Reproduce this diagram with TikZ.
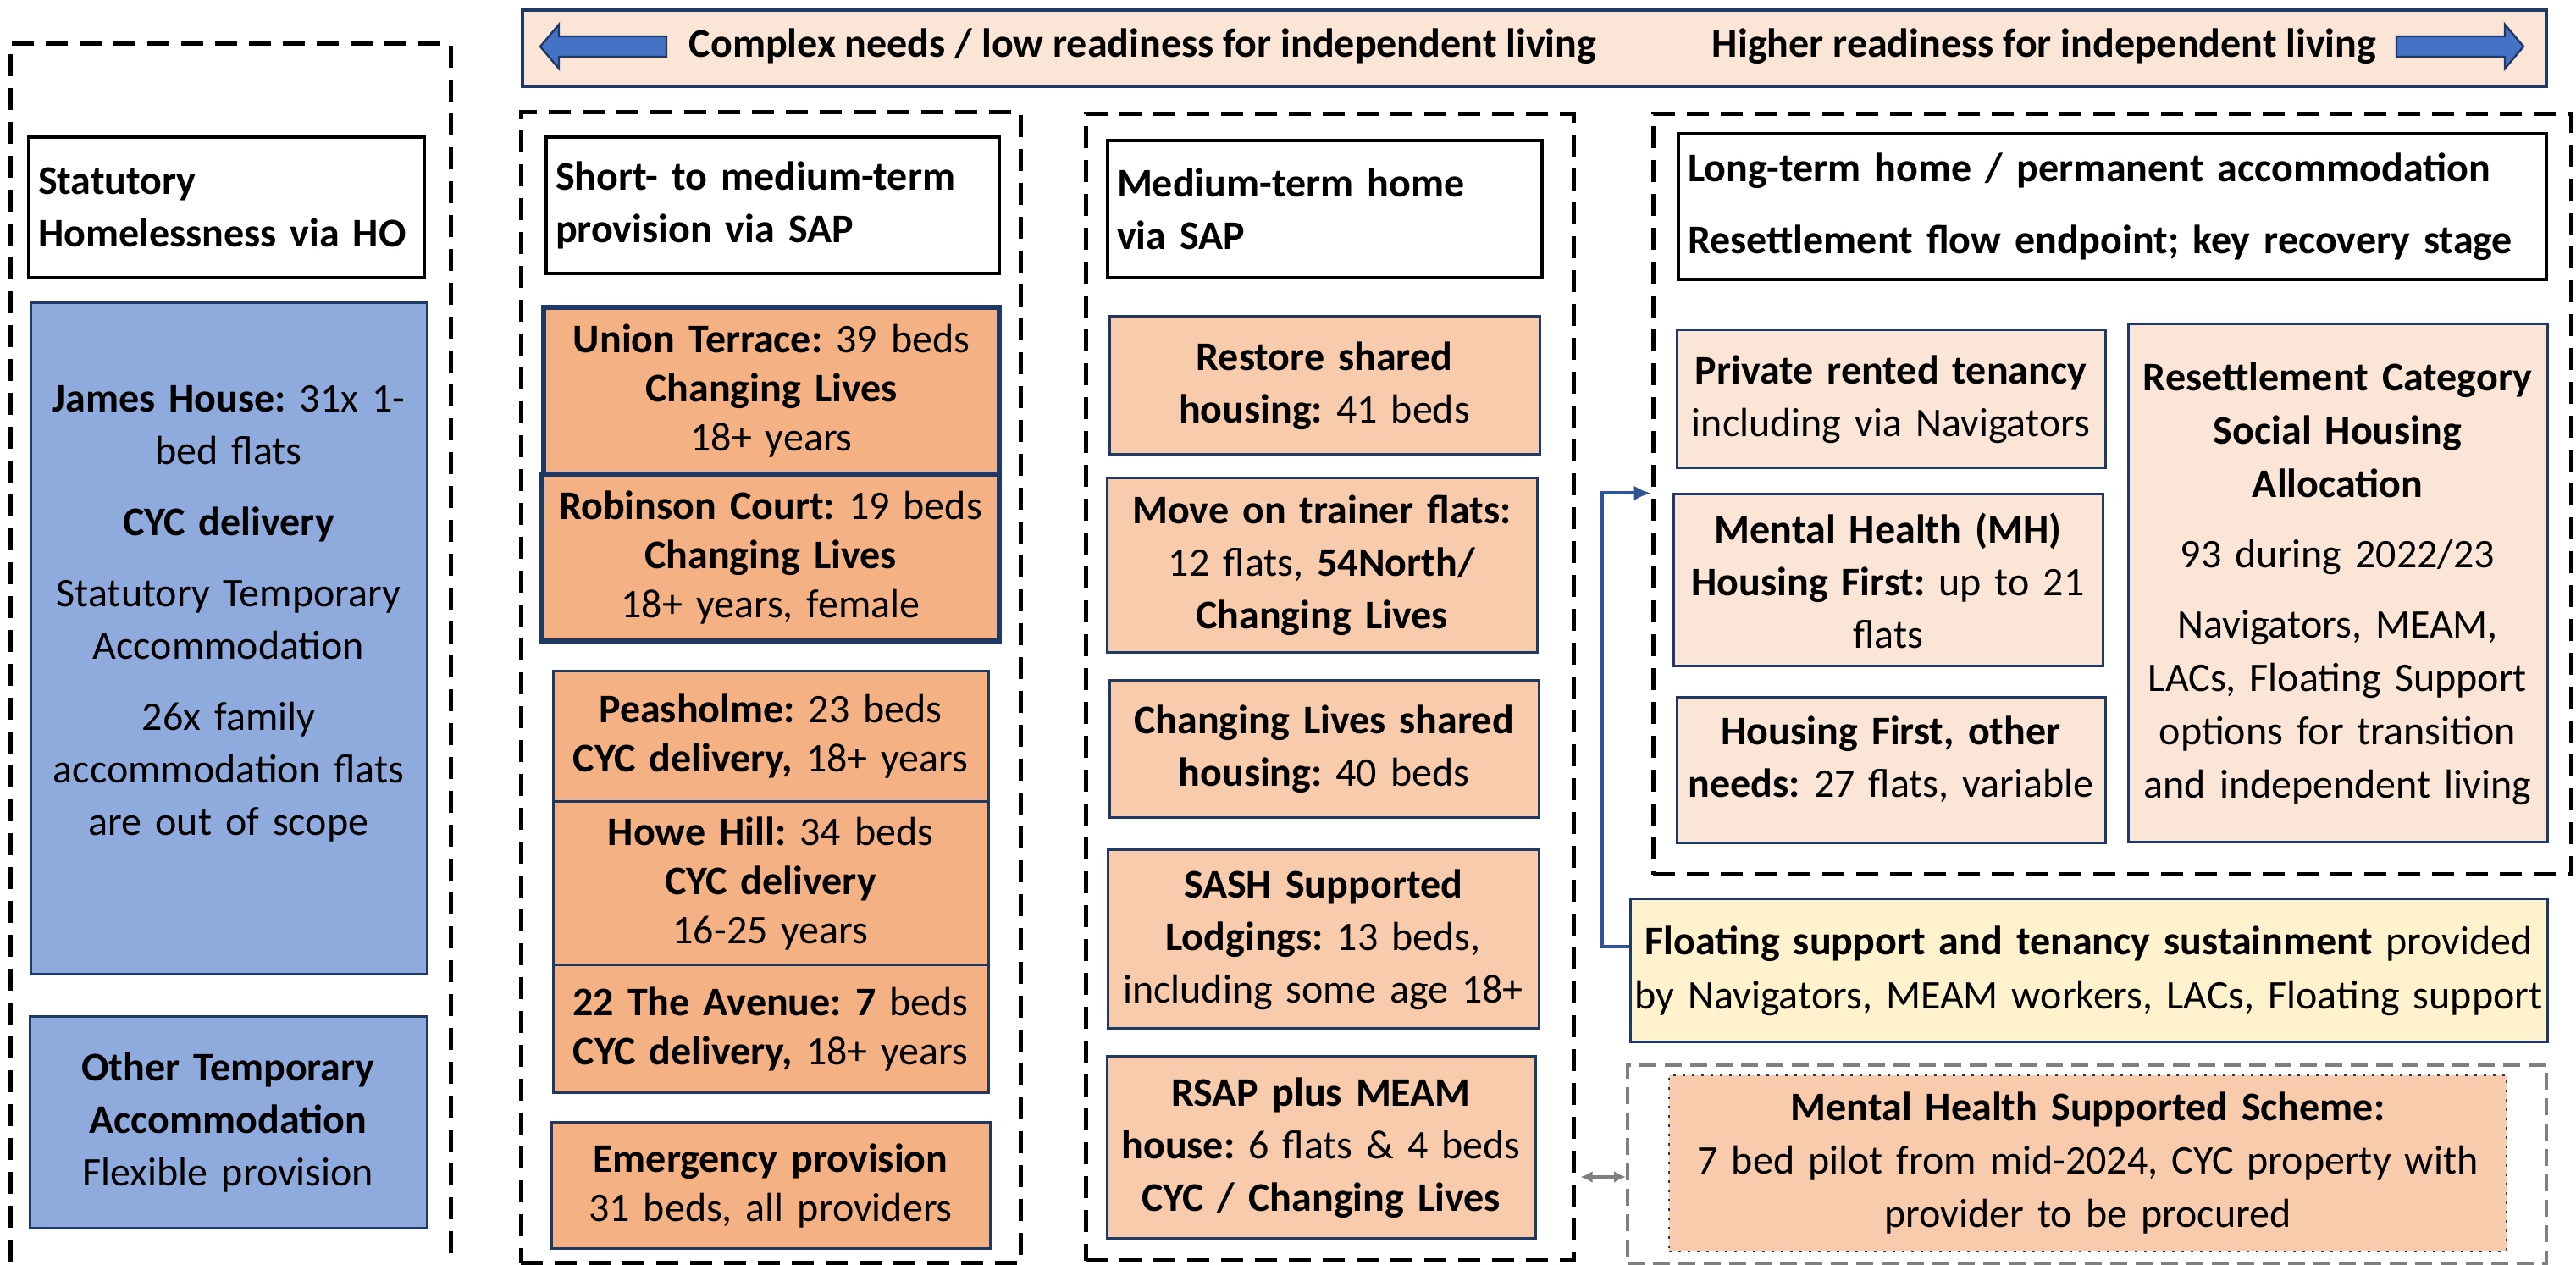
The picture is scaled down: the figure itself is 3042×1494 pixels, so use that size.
\documentclass[tikz,border=0pt]{standalone}
\usepackage{fontspec}
\setmainfont{Carlito}
\frenchspacing
\usetikzlibrary{arrows.meta}

\definecolor{navy}{HTML}{203864}
\definecolor{arrowblue}{HTML}{4472C4}
\definecolor{linkblue}{HTML}{2F5597}
\definecolor{hoblue}{HTML}{8FAADC}
\definecolor{sapdark}{HTML}{F4B183}
\definecolor{sapmid}{HTML}{F8CBAD}
\definecolor{sappale}{HTML}{FBE5D6}
\definecolor{floatcream}{HTML}{FFF2CC}
\definecolor{midgray}{HTML}{7F7F7F}

\tikzset{
  % box from left/top/right/bottom, in pixels of the page
  spot/.style args={#1/#2/#3/#4}{at={({(#1+#3)/2},{(#2+#4)/2})}, anchor=center,
    minimum width={(#3-#1)*0.25pt}, minimum height={(#4-#2)*0.25pt}},
  txt/.style={font=\fontsize{12}{15.5}\selectfont, align=center, inner sep=0pt},
  grp/.style={draw=black, line width=1.25pt, dash pattern=on 6.5pt off 3.5pt, inner sep=0pt},
  hdr/.style={draw=black, line width=1pt, fill=white, inner sep=0pt, align=left,
    font=\bfseries\fontsize{12}{15.5}\selectfont},
  hobox/.style={txt, draw=navy, line width=0.75pt, fill=hoblue, text width=115pt},
  shortbox/.style={txt, draw=navy, line width=0.75pt, fill=sapdark, text width=127pt,
    font=\fontsize{12}{14.5}\selectfont},
  midbox/.style={txt, draw=navy, line width=0.75pt, fill=sapmid, text width=124pt},
  longbox/.style={txt, draw=navy, line width=0.75pt, fill=sappale},
  banner/.style={draw=navy, line width=0.9pt, fill=sappale, inner sep=0pt},
  bannertxt/.style={inner sep=0pt, font=\bfseries\fontsize{12}{15.5}\selectfont},
  bannerarrow/.style={fill=arrowblue, draw=navy, line width=0.6pt},
  linkarrow/.style={draw=linkblue, line width=1pt, -{Latex[length=5pt,width=4.5pt]}},
  grayarrow/.style={draw=midgray, line width=0.9pt,
    {Latex[length=3.5pt,width=3.5pt]}-{Latex[length=3.5pt,width=3.5pt]}}
}

\begin{document}
\begin{tikzpicture}[x=0.25pt, y=-0.25pt]
  \path[use as bounding box] (0,0) rectangle (3042,1494);
  \clip (0,0) rectangle (3042,1494);

  % readiness banner
  \node[banner, spot=617/12/3007/102] (banner) {};
  \draw[bannerarrow] (638,55) -- (660,29) -- (660,43) -- (787,43) -- (787,67) -- (660,67) -- (660,81) -- cycle;
  \draw[bannerarrow] (2980,55) -- (2958,81) -- (2958,67) -- (2830,67) -- (2830,43) -- (2958,43) -- (2958,29) -- cycle;
  \node[bannertxt, anchor=base west] (lowready) at (813,68) {Complex needs / low readiness for independent living};
  \node[bannertxt, anchor=base east] (highready) at (2807,68) {Higher readiness for independent living};

  % dashed groups
  \node[grp, spot=12/52/532/1560] (hogrp) {};
  \node[grp, spot=615/133/1205/1492] (sapgrp) {};
  \node[grp, spot=1282/135/1858/1489] (medgrp) {};
  \node[grp, spot=1952/135/3036/1033] (ltgrp) {};
  \node[grp, draw=midgray, line width=1pt, dash pattern=on 5pt off 2.5pt, spot=1922/1258/3007/1492] (mhsgrp) {};

  % column headers
  \node[hdr, spot=34/162/501/328, text width=111.25pt] (hohdr) {Statutory\\Homelessness via HO};
  \node[hdr, spot=645/162/1180/323, text width=128.25pt] (saphdr) {Short- to medium-term\\provision via SAP};
  \node[hdr, spot=1308/166/1821/328, text width=122.75pt] (medhdr) {Medium-term home\\via SAP};
  \node[hdr, spot=1982/158/3007/330, text width=250.75pt] (lthdr) {Long-term home / permanent accommodation\\[5.75pt]Resettlement flow endpoint; key recovery stage};

  % statutory homelessness
  \node[hobox, spot=36/358/504/1151] (james) {\textbf{James House:} 31x 1-\\bed flats\\[5.5pt]\textbf{CYC delivery}\\[5.5pt]Statutory Temporary\\Accommodation\\[5.5pt]26x family\\accommodation flats\\are out of scope\rule[-17pt]{0pt}{0pt}};
  \node[hobox, spot=35/1201/504/1451] (othertemp) {\textbf{Other Temporary}\\\textbf{Accommodation}\\Flexible provision};

  % short- to medium-term
  \node[shortbox, line width=1.5pt, text width=132pt, spot=642/363/1180/560] (union) {\textbf{Union Terrace:} 39 beds\\\textbf{Changing Lives}\\18+ years};
  \node[shortbox, line width=1.5pt, text width=132pt, spot=640/560/1180/757] (robinson) {\textbf{Robinson Court:} 19 beds\\\textbf{Changing Lives}\\18+ years, female};
  \node[shortbox, spot=653/793/1167/947] (peasholme) {\textbf{Peasholme:} 23 beds\\\textbf{CYC delivery,} 18+ years};
  \node[shortbox, spot=653/947/1167/1140] (howe) {\textbf{Howe Hill:} 34 beds\\\textbf{CYC delivery}\\16-25 years};
  \node[shortbox, spot=653/1140/1167/1291] (avenue) {\textbf{22 The Avenue: 7} beds\\\textbf{CYC delivery,} 18+ years};
  \node[shortbox, spot=651/1326/1169/1475] (emergency) {\textbf{Emergency provision}\\31 beds, all providers};

  % medium-term
  \node[midbox, spot=1310/374/1818/537] (restore) {\textbf{Restore shared}\\\textbf{housing:} 41 beds};
  \node[midbox, spot=1307/565/1815/771] (moveon) {\textbf{Move on trainer flats:}\\12 flats, \textbf{54North/}\\\textbf{Changing Lives}};
  \node[midbox, spot=1310/804/1817/966] (clshared) {\textbf{Changing Lives shared}\\\textbf{housing:} 40 beds};
  \node[midbox, spot=1308/1004/1817/1215] (sash) {\textbf{SASH Supported}\\\textbf{Lodgings:} 13 beds,\\including some age 18+};
  \node[midbox, spot=1307/1248/1813/1463] (rsap) {\textbf{RSAP plus MEAM}\\\textbf{house:} 6 flats \& 4 beds\\\textbf{CYC / Changing Lives}};

  % long-term
  \node[longbox, text width=124pt, spot=1980/390/2486/553] (private) {\textbf{Private rented tenancy}\\including via Navigators};
  \node[longbox, text width=124pt, spot=1976/584/2483/787] (mh) {\textbf{Mental Health (MH)}\\\textbf{Housing First:} up to 21\\flats};
  \node[longbox, text width=124pt, spot=1980/824/2486/996] (hfother) {\textbf{Housing First, other}\\\textbf{needs:} 27 flats, variable\rule[-8pt]{0pt}{0pt}};
  \node[longbox, text width=122pt, font=\fontsize{12}{15.75}\selectfont, spot=2513/383/3008/995] (resettle) {\textbf{Resettlement Category}\\\textbf{Social Housing}\\\textbf{Allocation}\\[5pt]93 during 2022/23\\[5pt]Navigators, MEAM,\\LACs, Floating Support\\options for transition\\and independent living};

  % support and pilot
  \node[longbox, fill=floatcream, text width=268pt, font=\fontsize{12}{16}\selectfont, spot=1925/1062/3008/1231] (floating) {\textbf{Floating support and tenancy sustainment} provided\\by Navigators, MEAM workers, LACs, Floating support};
  \node[longbox, fill=sapmid, dotted, line width=0.6pt, text width=244pt, font=\fontsize{12}{15.75}\selectfont, spot=1971/1270/2960/1478] (mhscheme) {\textbf{Mental Health Supported Scheme:}\\7 bed pilot from mid-2024, CYC property with\\provider to be procured};

  % connectors
  \coordinate (gapy) at (0,1390);
  \draw[linkarrow] ([yshift=7pt]floating.west) -- ++(-32,0) |- (ltgrp.west |- mh.north);
  \draw[grayarrow] ([xshift=1.5pt]medgrp.east |- gapy) -- (mhsgrp.west |- gapy);
\end{tikzpicture}
\end{document}
